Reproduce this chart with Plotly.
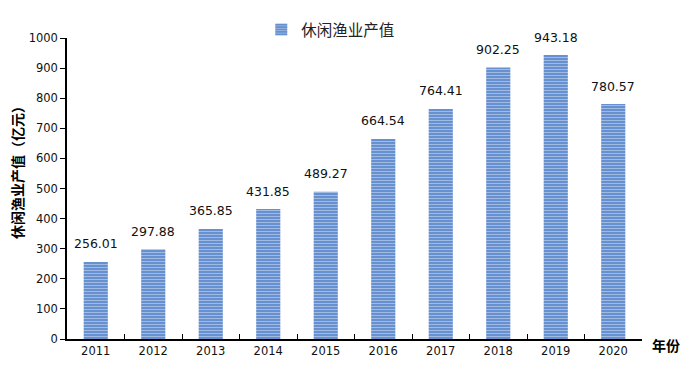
import plotly.graph_objects as go

years = ["2011", "2012", "2013", "2014", "2015", "2016", "2017", "2018", "2019", "2020"]
values = [256.01, 297.88, 365.85, 431.85, 489.27, 664.54, 764.41, 902.25, 943.18, 780.57]
series_name = "休闲渔业产值"
y_ticks = [0, 100, 200, 300, 400, 500, 600, 700, 800, 900, 1000]

font_cjk = "Noto Sans CJK SC"
font_num = "DejaVu Sans"

fig = go.Figure()
fig.add_trace(go.Bar(
    x=years, y=values, name=series_name,
    width=0.42,
    marker=dict(
        color="#6690d0",
        line=dict(width=0),
        pattern=dict(shape="-", fgcolor="#e8eef8", bgcolor="#6690d0", size=3, solidity=0.3),
    ),
    cliponaxis=False,
))

for i, v in enumerate(values):
    fig.add_annotation(x=i, y=v, text=f"{v:.2f}", showarrow=False,
                       xanchor="center", yanchor="middle", yshift=18,
                       font=dict(family=font_num, size=12.5, color="#111"))

fig.update_layout(
    width=692, height=378,
    margin=dict(l=59, r=58, t=30, b=47, autoexpand=False),
    paper_bgcolor="white", plot_bgcolor="white",
    showlegend=True,
    legend=dict(orientation="h", x=0.366, xanchor="left", y=0.942, yanchor="middle",
                yref="container", xref="container",
                font=dict(family=font_cjk, size=15.5, color="#222")),
    bargap=0.58,
)
fig.update_xaxes(
    type="category", range=[-0.5, len(years) - 0.5],
    showline=True, linecolor="black", linewidth=1.5,
    ticks="inside", ticklen=5, tickcolor="black", tickson="boundaries",
    tickfont=dict(family=font_num, size=11.5, color="#111"),
    showgrid=False, automargin=False,
)
fig.update_yaxes(
    range=[0, 1000], tickvals=y_ticks, showline=True, linecolor="black", linewidth=1.5,
    ticks="outside", ticklen=5, tickcolor="black", showgrid=False, zeroline=False,
    tickfont=dict(family=font_num, size=11.5, color="#111"),
    automargin=False,
)
fig.add_annotation(text="<b>休闲渔业产值（亿元）</b>", xref="paper", yref="paper", x=0, y=0.565,
                   xanchor="center", yanchor="middle", xshift=-50, textangle=-90, showarrow=False,
                   font=dict(family=font_cjk, size=14, color="black"))
fig.add_annotation(text="<b>年份</b>", xref="paper", yref="paper", x=1.0, y=0,
                   xanchor="left", yanchor="middle", xshift=8, yshift=-6, showarrow=False,
                   font=dict(family=font_cjk, size=14, color="black"))

fig.write_html("out.html")
